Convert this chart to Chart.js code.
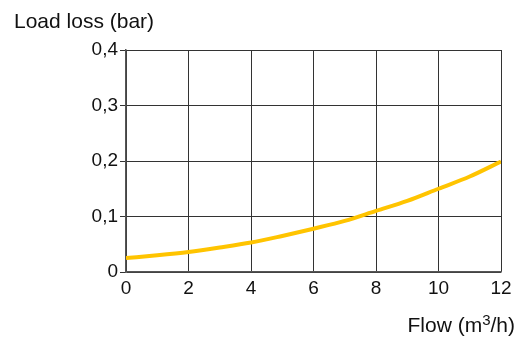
<!DOCTYPE html>
<html>
<head>
<meta charset="utf-8">
<script src="https://cdn.jsdelivr.net/npm/chart.js@4"></script>
<style>
html,body{margin:0;padding:0;background:#fff;}
#wrap{width:521px;height:338px;position:relative;}
</style>
</head>
<body>
<div id="wrap"><canvas id="c" width="521" height="338"></canvas></div>
<script>
const flow = [0,1,2,3,4,5,6,7,8,9,10,11,12];
const loadLoss = [0.025,0.030,0.036,0.044,0.053,0.065,0.078,0.092,0.110,0.128,0.150,0.172,0.199];
const xTickLabels = ['0','2','4','6','8','10','12'];
const yTickLabels = ['0','0,1','0,2','0,3','0,4'];
const yTitle = 'Load loss (bar)';
const xTitleParts = ['Flow (m', '3', '/h)'];

const FONT = '"Liberation Sans", Arial, sans-serif';

const titles = {
  id: 'titles',
  afterDraw(chart) {
    const ctx = chart.ctx, a = chart.chartArea;
    ctx.save();
    ctx.fillStyle = '#111';
    ctx.textBaseline = 'alphabetic';
    ctx.textAlign = 'left';
    ctx.font = '21px ' + FONT;
    ctx.fillText(yTitle, 14, 28);
    // x title, right-aligned, with raised superscript
    const big = '21px ' + FONT, small = '15px ' + FONT;
    ctx.font = big;
    const w0 = ctx.measureText(xTitleParts[0]).width;
    const w2 = ctx.measureText(xTitleParts[2]).width;
    ctx.font = small;
    const w1 = ctx.measureText(xTitleParts[1]).width;
    const right = a.right + 14;
    let x = right - (w0 + w1 + w2);
    const base = 332;
    ctx.font = big;
    ctx.fillText(xTitleParts[0], x, base); x += w0;
    ctx.font = small;
    ctx.fillText(xTitleParts[1], x, base - 7); x += w1;
    ctx.font = big;
    ctx.fillText(xTitleParts[2], x, base);
    ctx.restore();
  }
};

new Chart(document.getElementById('c'), {
  type: 'line',
  data: {
    datasets: [{
      data: flow.map((f, i) => ({x: f, y: loadLoss[i]})),
      borderColor: '#FFC400',
      borderWidth: 4,
      pointRadius: 0,
      cubicInterpolationMode: 'monotone',
      fill: false
    }]
  },
  options: {
    responsive: false,
    animation: false,
    devicePixelRatio: 1,
    layout: {padding: {left: 0, right: 20, top: 50, bottom: 0}},
    plugins: {legend: {display: false}, tooltip: {enabled: false}, title: {display: false}},
    scales: {
      x: {
        type: 'linear', min: 0, max: 12,
        afterBuildTicks(s) { s.ticks = xTickLabels.map((_, i) => ({value: i * 2})); },
        afterFit(s) { s.height = 66; },
        ticks: {
          color: '#111', font: {family: FONT, size: 19}, padding: 5,
          maxRotation: 0, autoSkip: false,
          callback: (v, i) => xTickLabels[i]
        },
        grid: {color: '#333', lineWidth: 1, drawTicks: false},
        border: {color: '#555', width: 1.5}
      },
      y: {
        min: 0, max: 0.4,
        afterBuildTicks(s) { s.ticks = yTickLabels.map((_, i) => ({value: i * 0.1})); },
        afterFit(s) { s.width = 126; },
        ticks: {
          color: '#111', font: {family: FONT, size: 19}, padding: 2,
          autoSkip: false,
          callback: (v, i) => yTickLabels[i]
        },
        grid: {color: '#333', lineWidth: 1, drawTicks: true, tickLength: 6},
        border: {color: '#555', width: 1.5}
      }
    }
  },
  plugins: [titles]
});
</script>
</body>
</html>
